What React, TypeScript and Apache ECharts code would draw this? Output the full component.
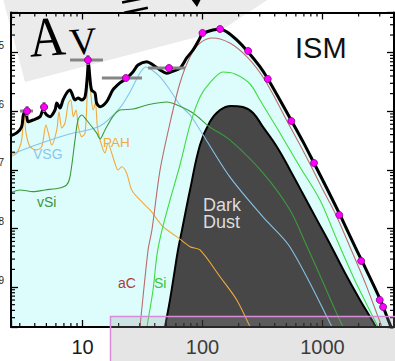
import React, { useEffect, useRef } from "react";
import * as echarts from "echarts";

// wavelength (µm) / intensity values
const xTickLabels = ["10", "100", "1000"];

const totalSED: [number, number][] = [
  [2.49, 3.79e-7], [2.83, 4.27e-7], [3.11, 5.46e-7], [3.21, 8.65e-7], [3.32, 9.84e-7], [3.43, 8.09e-7],
  [3.52, 6.65e-7], [3.87, 7.10e-7], [4.43, 8.09e-7], [4.69, 1.05e-6], [5.03, 8.65e-7], [5.36, 8.09e-7],
  [5.90, 1.05e-6], [6.10, 1.39e-6], [6.49, 1.14e-6], [6.88, 1.56e-6], [7.38, 2.05e-6], [7.87, 2.31e-6],
  [8.13, 2.05e-6], [8.66, 1.56e-6], [9.17, 1.69e-6], [9.85, 1.56e-6], [10.5, 1.77e-6], [10.96, 3.89e-6],
  [11.2, 6.94e-6], [11.5, 3.89e-6], [11.9, 2.31e-6], [12.7, 2.05e-6], [13.1, 1.39e-6], [14.0, 1.20e-6],
  [15.9, 1.46e-6], [17.9, 2.31e-6], [20.5, 3.04e-6], [23.3, 3.66e-6], [26.4, 4.74e-6], [29.0, 6.17e-6],
  [34.3, 7.02e-6], [38.7, 6.17e-6], [44.3, 5.07e-6], [50.3, 4.45e-6], [55.4, 4.74e-6], [64.9, 5.42e-6],
  [73.8, 8.12e-6], [83.3, 1.11e-5], [95.3, 1.78e-5], [99, 2.08e-5], [122, 2.44e-5], [140, 2.51e-5],
  [159, 2.28e-5], [193, 1.65e-5], [239, 1.04e-5], [301, 5.77e-6], [351, 3.56e-6], [442, 1.56e-6],
  [553, 6.83e-7], [688, 3.03e-7], [849, 1.31e-7], [1084, 4.91e-8], [1400, 1.70e-8], [1866, 4.89e-9],
  [2133, 2.79e-9], [3013, 6.26e-10], [3724, 2.09e-10], [4424, 1.02e-10],
];

const darkDust: [number, number][] = [
  [44.3, 6.93e-11], [48.7, 2.09e-10], [53.6, 6.03e-10], [57.9, 1.61e-9], [62.5, 4.30e-9], [67.5, 9.43e-9],
  [78.7, 4.54e-8], [95.3, 2.66e-7], [115, 6.57e-7], [140, 1.05e-6], [173, 1.23e-6], [217, 1.18e-6],
  [264, 9.35e-7], [319, 5.40e-7], [418, 2.46e-7], [536, 9.96e-8], [688, 3.88e-8], [899, 1.40e-8],
  [1155, 5.44e-9], [1540, 1.74e-9], [2054, 6.03e-10], [2790, 2.09e-10], [3318, 1.02e-10],
];

const aC: [number, number][] = [
  [27.9, 5.70e-11], [30.1, 2.09e-10], [35.2, 4.30e-9], [37.9, 9.43e-9], [44.3, 9.96e-8], [53.6, 6.31e-7],
  [64.9, 3.04e-6], [78.7, 8.45e-6], [95.3, 1.46e-5], [122, 1.78e-5], [169, 1.46e-5], [235, 8.45e-6],
  [319, 3.85e-6], [410, 1.56e-6], [506, 6.83e-7], [637, 2.88e-7], [787, 1.26e-7], [991, 4.91e-8],
  [1296, 1.70e-8], [1695, 4.83e-9], [2304, 1.09e-9], [3130, 2.09e-10], [3652, 1.02e-10],
];

const si: [number, number][] = [
  [31.9, 5.70e-11], [34.5, 2.09e-10], [38.7, 8.92e-10], [41.8, 3.60e-9], [46.0, 9.43e-9], [53.6, 3.06e-8],
  [64.9, 1.21e-7], [78.7, 5.84e-7], [95.3, 1.75e-6], [115, 3.04e-6], [148, 4.68e-6], [187, 4.33e-6],
  [249, 2.92e-6], [301, 1.56e-6], [442, 4.27e-7], [649, 1.12e-7], [953, 3.06e-8], [1321, 6.37e-9],
  [1939, 1.09e-9], [2901, 2.09e-10], [3381, 1.02e-10],
];

const vSi: [number, number][] = [
  [2.49, 4.04e-8], [3.01, 4.54e-8], [3.87, 4.25e-8], [4.87, 4.54e-8], [6.49, 4.91e-8], [7.38, 5.52e-8],
  [7.87, 7.66e-8], [8.66, 3.24e-7], [9.17, 7.10e-7], [9.85, 8.65e-7], [10.8, 7.10e-7], [13.1, 4.27e-7],
  [14.0, 3.37e-7], [15.4, 4.80e-7], [17.9, 8.09e-7], [20.5, 1.05e-6], [26.4, 1.09e-6], [34.5, 1.28e-6],
  [50.6, 1.44e-6], [61.3, 1.28e-6], [83.3, 9.35e-7], [115, 5.40e-7], [169, 3.24e-7], [319, 8.85e-8],
  [536, 2.07e-8], [715, 5.88e-9], [991, 1.32e-9], [1483, 2.09e-10], [1866, 1.02e-10],
];

const vsg: [number, number][] = [
  [2.49, 1.80e-7], [3.87, 2.56e-7], [7.29, 3.94e-7], [14.0, 5.61e-7], [20.5, 1.14e-6], [24.9, 2.14e-6],
  [30.1, 4.50e-6], [33.8, 5.70e-6], [37.9, 5.07e-6], [44.3, 3.85e-6], [53.6, 2.31e-6], [64.9, 1.28e-6],
  [78.7, 8.65e-7], [95.3, 4.80e-7], [169, 7.57e-8], [319, 1.57e-8], [536, 4.83e-9], [1200, 2.09e-10],
  [1400, 1.02e-10],
];

const pah: [number, number][] = [
  [2.49, 1.66e-7], [2.83, 1.94e-7], [3.11, 3.24e-7], [3.25, 9.35e-7], [3.38, 4.27e-7], [3.65, 2.49e-7],
  [4.15, 2.19e-7], [4.57, 2.49e-7], [4.96, 5.84e-7], [5.19, 4.27e-7], [5.54, 2.66e-7], [6.10, 4.80e-7],
  [6.37, 9.84e-7], [6.71, 5.19e-7], [7.15, 6.31e-7], [7.62, 1.39e-6], [7.98, 1.56e-6], [8.38, 8.09e-7],
  [8.83, 1.05e-6], [9.23, 5.46e-7], [9.85, 3.69e-7], [10.5, 4.27e-7], [10.96, 2.05e-6], [11.3, 5.48e-6],
  [11.7, 2.05e-6], [12.3, 1.05e-6], [12.8, 1.39e-6], [13.3, 5.46e-7], [14.0, 3.24e-7], [15.4, 1.94e-7],
  [16.3, 2.88e-7], [17.5, 1.94e-7], [18.6, 1.31e-7], [19.8, 9.96e-8], [21.2, 1.13e-7], [23.3, 8.85e-8],
  [25.7, 4.54e-8], [30.1, 3.06e-8], [36.5, 2.07e-8], [46.9, 1.07e-8], [61.0, 7.24e-9], [78.7, 4.89e-9],
  [95.3, 4.30e-9], [140, 1.50e-9], [193, 6.03e-10], [249, 2.09e-10], [290, 1.02e-10],
];

const observations: [number, number][] = [
  [3.45, 1.01e-6], [4.78, 1.18e-6], [11.1, 7.50e-6], [23.0, 3.70e-6], [52.6, 5.48e-6],
  [100, 2.17e-5], [140, 2.54e-5], [240, 1.07e-5], [350, 3.56e-6], [550, 6.83e-7],
  [850, 1.31e-7], [1380, 1.70e-8], [2100, 2.79e-9], [3000, 6.03e-10], [3200, 4.57e-10],
];

// [wavelength, value, wavelength low, wavelength high, value low, value high]
const errorBars: number[][] = [
  [3.45, 1.01e-6, 3.01, 3.87, 8.3e-7, 1.23e-6],
  [4.78, 1.18e-6, 4.43, 5.16, 9.7e-7, 1.44e-6],
  [11.1, 7.50e-6, 7.87, 14.8, 6.16e-6, 9.13e-6],
  [23.0, 3.70e-6, 14.5, 31.3, 3.70e-6, 3.70e-6],
  [52.6, 5.48e-6, 35.2, 71.5, 5.48e-6, 5.48e-6],
];

const xMinorTicks = [3, 4, 5, 6, 7, 8, 9, 20, 30, 40, 50, 60, 70, 80, 90, 200, 300, 400, 500, 600, 700, 800, 900, 2000, 3000];
const yMinorTicks = [
  3e-10, 4e-10, 5e-10, 6e-10, 7e-10, 8e-10, 9e-10,
  2e-9, 3e-9, 4e-9, 5e-9, 6e-9, 7e-9, 8e-9, 9e-9,
  2e-8, 3e-8, 4e-8, 5e-8, 6e-8, 7e-8, 8e-8, 9e-8,
  2e-7, 3e-7, 4e-7, 5e-7, 6e-7, 7e-7, 8e-7, 9e-7,
  2e-6, 3e-6, 4e-6, 5e-6, 6e-6, 7e-6, 8e-6, 9e-6,
  2e-5, 3e-5, 4e-5,
];

const X_MIN = 2.535;
const X_MAX = 3945;
const Y_MIN = 2.08e-10;
const Y_MAX = 4.85e-5;
const SHIFT = 40;

const FONT = '"Liberation Sans", Arial, sans-serif';
const SERIF = '"Liberation Serif", "Times New Roman", serif';

function isDecade(v: number) {
  const l = Math.log10(v);
  return Math.abs(l - Math.round(l)) < 1e-6;
}

export default function App() {
  const ref = useRef<HTMLDivElement>(null);

  useEffect(() => {
    document.body.style.margin = "0";
    document.body.style.overflow = "hidden";
    const chart = echarts.init(ref.current!, undefined, { renderer: "svg" });

    const axisCommon = {
      type: "log" as const,
      logBase: 10,
      z: 10,
      axisLine: { show: true, onZero: false, lineStyle: { color: "#000", width: 2 } },
      axisTick: { show: true, inside: true, length: 7, lineStyle: { color: "#000", width: 1.3 } },
      splitLine: { show: false },
      minorTick: { show: false },
    };

    const thin = (data: [number, number][], color: string) => ({
      type: "line",
      data,
      symbol: "none",
      smooth: 0.3,
      silent: true,
      lineStyle: { color, width: 1.1 },
      z: 3,
    });

    const tickLine = (x1: number, y1: number, x2: number, y2: number) => ({
      type: "line",
      shape: { x1, y1, x2, y2 },
      style: { stroke: "#000", lineWidth: 1.2 },
    });

    const option: any = {
      animation: false,
      textStyle: { fontFamily: FONT },
      grid: { left: 11 + SHIFT, right: 1, top: 12.5, bottom: 34, containLabel: false, outerBoundsMode: "none" },
      xAxis: [
        {
          ...axisCommon,
          position: "bottom",
          min: X_MIN,
          max: X_MAX,
          axisLabel: {
            show: true,
            margin: 10,
            fontSize: 20,
            color: "#1a1a1a",
            fontFamily: FONT,
            formatter: (v: number) => (isDecade(v) ? xTickLabels[Math.round(Math.log10(v)) - 1] ?? "" : ""),
          },
        },
        { ...axisCommon, position: "top", min: X_MIN, max: X_MAX, axisLabel: { show: false } },
      ],
      yAxis: [
        {
          ...axisCommon,
          position: "left",
          min: Y_MIN,
          max: Y_MAX,
          axisLabel: {
            show: true,
            margin: 7,
            color: "#222",
            fontFamily: FONT,
            formatter: (v: number) => (isDecade(v) ? `{b|10}{s|\u2212${-Math.round(Math.log10(v))}}` : ""),
            rich: {
              b: { fontSize: 15, lineHeight: 24, fontFamily: FONT, color: "#222" },
              s: { fontSize: 10, lineHeight: 10, verticalAlign: "top", fontFamily: FONT, color: "#222" },
            },
          },
        },
        { ...axisCommon, position: "right", min: Y_MIN, max: Y_MAX, axisLabel: { show: false } },
      ],
      series: [
        {
          type: "line",
          data: totalSED,
          symbol: "none",
          smooth: 0.3,
          silent: true,
          lineStyle: { opacity: 0, width: 0 },
          areaStyle: { color: "#ddfdfd", opacity: 1, origin: "start" },
          z: 1,
        },
        {
          type: "line",
          data: darkDust,
          symbol: "none",
          smooth: 0.4,
          silent: true,
          lineStyle: { color: "#000", width: 2 },
          areaStyle: { color: "#474747", opacity: 1, origin: "start" },
          z: 2,
        },
        thin(pah, "#f2a93b"),
        thin(vsg, "#86c3e8"),
        thin(vSi, "#3b9b3b"),
        thin(si, "#3ddc3d"),
        thin(aC, "#bb6b6b"),
        {
          type: "line",
          data: totalSED,
          symbol: "none",
          smooth: 0.3,
          silent: true,
          lineStyle: { color: "#000", width: 3 },
          z: 4,
        },
        {
          type: "custom",
          data: errorBars,
          silent: true,
          z: 5,
          renderItem: (_p: any, api: any) => {
            const y = api.value(1);
            const lo = api.coord([api.value(2), y]);
            const hi = api.coord([api.value(3), y]);
            const c = api.coord([api.value(0), y]);
            const ylo = api.coord([api.value(0), api.value(4)]);
            const yhi = api.coord([api.value(0), api.value(5)]);
            const st = { stroke: "#858585", lineWidth: 3 };
            return {
              type: "group",
              children: [
                { type: "line", shape: { x1: lo[0], y1: lo[1], x2: hi[0], y2: hi[1] }, style: st },
                { type: "line", shape: { x1: c[0], y1: ylo[1], x2: c[0], y2: yhi[1] }, style: st },
              ],
            };
          },
        },
        {
          type: "scatter",
          data: observations,
          symbolSize: 7,
          silent: true,
          itemStyle: { color: "#ff00ff", borderColor: "#800080", borderWidth: 0.8, opacity: 1 },
          z: 6,
        },
        {
          type: "custom",
          data: xMinorTicks.map((v) => [v, 1e-7]),
          silent: true,
          z: 11,
          renderItem: (params: any, api: any) => {
            const cs = params.coordSys;
            const x = api.coord([api.value(0), 1e-7])[0];
            const b = cs.y + cs.height;
            return {
              type: "group",
              children: [tickLine(x, b, x, b - 4), tickLine(x, cs.y, x, cs.y + 4)],
            };
          },
        },
        {
          type: "custom",
          data: yMinorTicks.map((v) => [10, v]),
          silent: true,
          z: 11,
          renderItem: (params: any, api: any) => {
            const cs = params.coordSys;
            const y = api.coord([10, api.value(1)])[1];
            const r = cs.x + cs.width;
            return {
              type: "group",
              children: [tickLine(cs.x, y, cs.x + 4, y), tickLine(r, y, r - 4, y)],
            };
          },
        },
      ],
      graphic: [
        {
          type: "group",
          x: SHIFT,
          y: 0,
          children: [
            {
              type: "polygon",
              z: 0,
              shape: { points: [[2, -5], [25, 82], [220, 31], [275, -5]] },
              style: { fill: "#ebebeb" },
            },
            {
              type: "text",
              z: 20,
              x: 47,
              y: 37,
              rotation: 0.07,
              scaleX: 0.9,
              style: { text: "A", fontSize: 56, fontFamily: SERIF, fill: "#000", align: "center", verticalAlign: "middle" },
            },
            {
              type: "text",
              z: 20,
              x: 83,
              y: 41,
              rotation: 0.07,
              style: { text: "V", fontSize: 38, fontFamily: SERIF, fill: "#000", align: "center", verticalAlign: "middle" },
            },
            {
              type: "text",
              z: 20,
              x: 135,
              y: 5,
              rotation: 0.2,
              style: { text: "=", fontSize: 52, fontFamily: SERIF, fill: "#000", align: "center", verticalAlign: "middle" },
            },
            {
              type: "polygon",
              z: 20,
              shape: { points: [[191, -1], [201, -1], [197, 7]] },
              style: { fill: "#000" },
            },
            {
              type: "text",
              z: 20,
              x: 295,
              y: 48,
              style: { text: "ISM", fontSize: 29, fontFamily: FONT, fill: "#111", align: "left", verticalAlign: "middle" },
            },
            {
              type: "text",
              z: 20,
              x: 203,
              y: 196,
              style: { text: "Dark\nDust", fontSize: 18, lineHeight: 17, fontFamily: FONT, fill: "#dcdcdc", align: "left", verticalAlign: "top" },
            },
            {
              type: "text",
              z: 20,
              x: 103,
              y: 142,
              style: { text: "PAH", fontSize: 13.5, fontFamily: FONT, fill: "#f2a93b", align: "left", verticalAlign: "middle" },
            },
            {
              type: "text",
              z: 20,
              x: 33,
              y: 154,
              style: { text: "VSG", fontSize: 14, fontFamily: FONT, fill: "#8cc6ea", align: "left", verticalAlign: "middle" },
            },
            {
              type: "text",
              z: 20,
              x: 37,
              y: 202,
              style: { text: "vSi", fontSize: 14, fontFamily: FONT, fill: "#3a943a", align: "left", verticalAlign: "middle" },
            },
            {
              type: "text",
              z: 20,
              x: 118,
              y: 283,
              style: { text: "aC", fontSize: 14, fontFamily: FONT, fill: "#b03a3a", align: "left", verticalAlign: "middle" },
            },
            {
              type: "text",
              z: 20,
              x: 154,
              y: 283,
              style: { text: "Si", fontSize: 14, fontFamily: FONT, fill: "#33c633", align: "left", verticalAlign: "middle" },
            },
            {
              type: "rect",
              z: 50,
              shape: { x: 110.5, y: 316.5, width: 320, height: 80 },
              style: { fill: "rgba(150,150,150,0.25)", stroke: "#d98bd9", lineWidth: 1.5 },
            },
          ],
        },
      ],
    };

    chart.setOption(option);
    return () => chart.dispose();
  }, []);

  return (
    <div
      ref={ref}
      style={{ position: "absolute", left: -SHIFT, top: 0, width: 395 + SHIFT, height: 361 }}
    />
  );
}
